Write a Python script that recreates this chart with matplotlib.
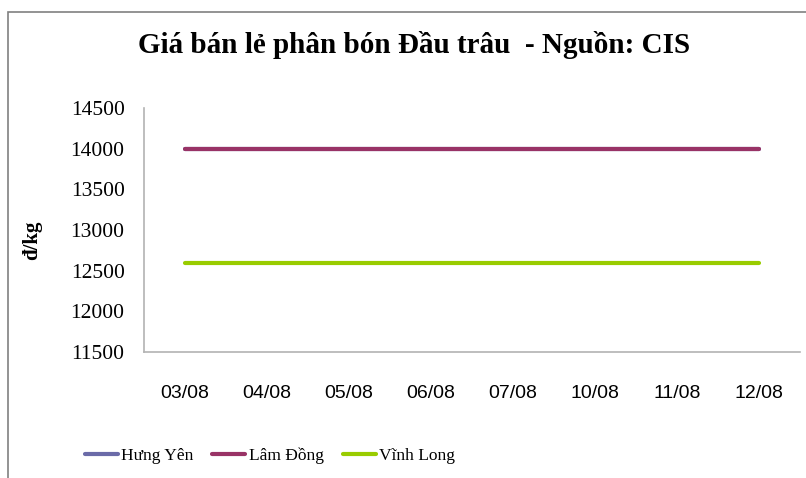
import matplotlib.pyplot as plt
from matplotlib.patches import Rectangle

# data (Hung Yen sits under Lam Dong)
dates = ["03/08", "04/08", "05/08", "06/08", "07/08", "10/08", "11/08", "12/08"]
hung_yen = [14000, 14000, 14000, 14000, 14000, 14000, 14000, 14000]
lam_dong = [14000, 14000, 14000, 14000, 14000, 14000, 14000, 14000]
vinh_long = [12600, 12600, 12600, 12600, 12600, 12600, 12600, 12600]
yticks = [11500, 12000, 12500, 13000, 13500, 14000, 14500]

W, H = 806, 478
fig = plt.figure(figsize=(W / 100, H / 100), dpi=100)
ax = fig.add_axes([144 / W, 1 - 352 / H, (800 - 144) / W, (352 - 108) / H])

x = range(len(dates))
ax.plot(x, hung_yen, color="#6B6BA8", lw=3, label="Hưng Yên", solid_capstyle="round")
ax.plot(x, lam_dong, color="#993366", lw=3, label="Lâm Đồng", solid_capstyle="round")
ax.plot(x, vinh_long, color="#99CC00", lw=3, label="Vĩnh Long", solid_capstyle="round")

ax.set_xlim(-0.5, len(dates) - 0.5)
ax.set_ylim(11500, 14500)
ax.set_yticks(yticks)
ax.set_yticklabels([str(v) for v in yticks], family="Liberation Serif", fontsize=15.5)
ax.set_xticks(list(x))
ax.set_xticklabels(dates, family="Liberation Sans", fontsize=14)
ax.tick_params(axis="y", length=0, pad=14)
ax.tick_params(axis="x", length=0, pad=24)
for s in ["top", "right"]:
    ax.spines[s].set_visible(False)
for s in ["left", "bottom"]:
    ax.spines[s].set_color("#B3B3B3")
    ax.spines[s].set_linewidth(1.2)

fig.text(414 / W, 1 - 45 / H, "Giá bán lẻ phân bón Đầu trâu  - Nguồn: CIS",
         family="Liberation Serif", weight="bold", fontsize=21, ha="center", va="center")
fig.text(32 / W, 1 - 240 / H, "đ/kg", family="Liberation Serif", weight="bold",
         fontsize=15, rotation=90, ha="center", va="center")

leg = fig.legend(loc="center", bbox_to_anchor=(270 / W, 1 - 456 / H), ncol=3,
                 frameon=False, prop={"family": "Liberation Serif", "size": 12.5},
                 handlelength=1.9, handletextpad=0.2, columnspacing=1.1)

# outer chart border
fig.patches.append(Rectangle((8 / W, -0.1), 1.2, 1.1 - 12 / H, transform=fig.transFigure,
                             fill=False, edgecolor="#808080", lw=1.2))

fig.savefig("out.png", dpi=100)
